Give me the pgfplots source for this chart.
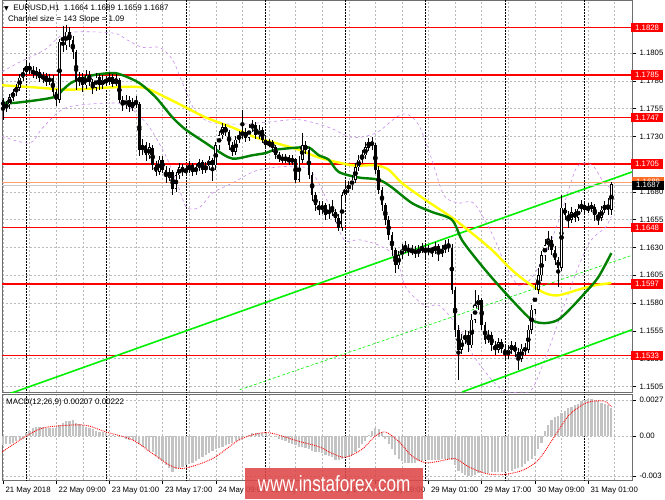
\documentclass[border=0pt]{standalone}
\usepackage{fontspec}
\setmainfont{Liberation Sans}
\newfontfamily\dejavu{DejaVu Sans}
\usepackage{graphicx}
\usepackage{pgfplots}
\usepackage{pgfplotstable}
\pgfplotsset{compat=1.18}

\definecolor{mtgrid}{RGB}{185,185,185}
\definecolor{mtframe}{RGB}{110,110,110}
\definecolor{mtgreen}{RGB}{0,128,0}
\definecolor{mtlime}{RGB}{0,240,0}
\definecolor{mtyellow}{RGB}{255,255,0}
\definecolor{mtviolet}{RGB}{200,140,235}
\definecolor{mtsilver}{RGB}{195,195,195}
\definecolor{mtsalmon}{RGB}{255,160,110}
\definecolor{mtorange}{RGB}{255,110,40}
\definecolor{wmred}{RGB}{222,72,72}

\pgfplotstableread{
t O H L C
0 1.1763 1.1765 1.1745 1.1756
1 1.1756 1.1762 1.1752 1.1759
2 1.1759 1.1768 1.1755 1.1765
3 1.1765 1.1773 1.1762 1.1770
4 1.1770 1.1777 1.1766 1.1774
5 1.1774 1.1786 1.1771 1.1783
6 1.1783 1.1792 1.1780 1.1788
7 1.1788 1.1797 1.1785 1.1793
8 1.1793 1.1796 1.1786 1.1790
9 1.1790 1.1793 1.1783 1.1786
10 1.1786 1.1792 1.1782 1.1788
11 1.1788 1.1791 1.1779 1.1783
12 1.1783 1.1788 1.1778 1.1784
13 1.1784 1.1787 1.1775 1.1779
14 1.1779 1.1786 1.1776 1.1783
15 1.1783 1.1785 1.1766 1.1770
16 1.1770 1.1773 1.1757 1.1763
17 1.1763 1.1818 1.1760 1.1815
18 1.1815 1.1829 1.1806 1.1812
19 1.1812 1.1830 1.1808 1.1824
20 1.1824 1.1828 1.1810 1.1817
21 1.1817 1.1820 1.1800 1.1806
22 1.1806 1.1808 1.1772 1.1779
23 1.1779 1.1788 1.1775 1.1783
24 1.1783 1.1787 1.1770 1.1776
25 1.1776 1.1790 1.1773 1.1785
26 1.1785 1.1789 1.1775 1.1779
27 1.1779 1.1782 1.1768 1.1774
28 1.1774 1.1787 1.1771 1.1783
29 1.1783 1.1786 1.1772 1.1776
30 1.1776 1.1785 1.1773 1.1781
31 1.1781 1.1784 1.1775 1.1779
32 1.1779 1.1787 1.1776 1.1783
33 1.1783 1.1786 1.1774 1.1777
34 1.1777 1.1786 1.1775 1.1781
35 1.1781 1.1783 1.1760 1.1763
36 1.1763 1.1766 1.1753 1.1758
37 1.1758 1.1767 1.1755 1.1763
38 1.1763 1.1766 1.1752 1.1756
39 1.1756 1.1765 1.1753 1.1761
40 1.1761 1.1766 1.1756 1.1759
41 1.1759 1.1761 1.1712 1.1718
42 1.1718 1.1728 1.1713 1.1722
43 1.1722 1.1725 1.1708 1.1713
44 1.1713 1.1724 1.1710 1.1720
45 1.1720 1.1722 1.1700 1.1704
46 1.1704 1.1708 1.1694 1.1698
47 1.1698 1.1712 1.1695 1.1709
48 1.1709 1.1712 1.1697 1.1700
49 1.1700 1.1703 1.1688 1.1693
50 1.1693 1.1702 1.1690 1.1698
51 1.1698 1.1700 1.1677 1.1683
52 1.1683 1.1698 1.1680 1.1695
53 1.1695 1.1706 1.1692 1.1702
54 1.1702 1.1705 1.1694 1.1698
55 1.1698 1.1704 1.1695 1.1700
56 1.1700 1.1708 1.1697 1.1704
57 1.1704 1.1706 1.1694 1.1698
58 1.1698 1.1705 1.1695 1.1702
59 1.1702 1.1710 1.1699 1.1707
60 1.1707 1.1709 1.1696 1.1700
61 1.1700 1.1707 1.1697 1.1703
62 1.1703 1.1712 1.1700 1.1709
63 1.1709 1.1711 1.1690 1.1704
64 1.1704 1.1725 1.1700 1.1722
65 1.1722 1.1735 1.1718 1.1731
66 1.1731 1.1742 1.1728 1.1738
67 1.1738 1.1741 1.1730 1.1734
68 1.1734 1.1736 1.1718 1.1722
69 1.1722 1.1725 1.1712 1.1716
70 1.1716 1.1730 1.1713 1.1727
71 1.1727 1.1735 1.1724 1.1731
72 1.1731 1.1754 1.1728 1.1734
73 1.1734 1.1738 1.1725 1.1729
74 1.1729 1.1741 1.1726 1.1738
75 1.1738 1.1745 1.1734 1.1740
76 1.1740 1.1743 1.1728 1.1731
77 1.1731 1.1740 1.1728 1.1736
78 1.1736 1.1738 1.1724 1.1727
79 1.1727 1.1730 1.1719 1.1722
80 1.1722 1.1728 1.1720 1.1725
81 1.1725 1.1727 1.1716 1.1720
82 1.1720 1.1722 1.1710 1.1713
83 1.1713 1.1716 1.1707 1.1711
84 1.1711 1.1714 1.1706 1.1709
85 1.1709 1.1714 1.1706 1.1711
86 1.1711 1.1713 1.1704 1.1707
87 1.1707 1.1713 1.1704 1.1710
88 1.1710 1.1711 1.1688 1.1691
89 1.1691 1.1712 1.1689 1.1709
90 1.1709 1.1733 1.1706 1.1722
91 1.1722 1.1726 1.1714 1.1718
92 1.1718 1.1720 1.1692 1.1695
93 1.1695 1.1698 1.1672 1.1677
94 1.1677 1.1680 1.1663 1.1668
95 1.1668 1.1672 1.1659 1.1664
96 1.1664 1.1672 1.1660 1.1668
97 1.1668 1.1670 1.1655 1.1659
98 1.1659 1.1669 1.1656 1.1665
99 1.1665 1.1673 1.1658 1.1662
100 1.1662 1.1665 1.1653 1.1657
101 1.1657 1.1660 1.1645 1.1648
102 1.1648 1.1680 1.1645 1.1677
103 1.1677 1.1690 1.1672 1.1683
104 1.1683 1.1690 1.1679 1.1686
105 1.1686 1.1695 1.1682 1.1691
106 1.1691 1.1706 1.1688 1.1702
107 1.1702 1.1713 1.1699 1.1709
108 1.1709 1.1718 1.1706 1.1713
109 1.1713 1.1725 1.1710 1.1720
110 1.1720 1.1729 1.1717 1.1725
111 1.1725 1.1729 1.1718 1.1722
112 1.1722 1.1724 1.1696 1.1700
113 1.1700 1.1703 1.1678 1.1682
114 1.1682 1.1685 1.1663 1.1668
115 1.1668 1.1670 1.1650 1.1655
116 1.1655 1.1658 1.1637 1.1641
117 1.1641 1.1644 1.1622 1.1628
118 1.1628 1.1630 1.1607 1.1614
119 1.1614 1.1627 1.1611 1.1623
120 1.1623 1.1633 1.1620 1.1628
121 1.1628 1.1636 1.1625 1.1630
122 1.1630 1.1633 1.1622 1.1626
123 1.1626 1.1632 1.1623 1.1628
124 1.1628 1.1631 1.1621 1.1625
125 1.1625 1.1632 1.1622 1.1628
126 1.1628 1.1634 1.1625 1.1630
127 1.1630 1.1633 1.1621 1.1626
128 1.1626 1.1632 1.1623 1.1629
129 1.1629 1.1631 1.1622 1.1627
130 1.1627 1.1635 1.1624 1.1631
131 1.1631 1.1633 1.1618 1.1625
132 1.1625 1.1632 1.1622 1.1628
133 1.1628 1.1637 1.1625 1.1632
134 1.1632 1.1638 1.1626 1.1630
135 1.1630 1.1633 1.1588 1.1592
136 1.1592 1.1595 1.1550 1.1556
137 1.1556 1.1560 1.1511 1.1538
138 1.1538 1.1552 1.1534 1.1547
139 1.1547 1.1556 1.1543 1.1551
140 1.1551 1.1555 1.1536 1.1542
141 1.1542 1.1570 1.1540 1.1565
142 1.1565 1.1592 1.1562 1.1578
143 1.1578 1.1587 1.1574 1.1583
144 1.1583 1.1585 1.1556 1.1560
145 1.1560 1.1563 1.1543 1.1547
146 1.1547 1.1556 1.1544 1.1551
147 1.1551 1.1554 1.1537 1.1542
148 1.1542 1.1546 1.1533 1.1538
149 1.1538 1.1549 1.1535 1.1545
150 1.1545 1.1548 1.1535 1.1539
151 1.1539 1.1542 1.1528 1.1533
152 1.1533 1.1542 1.1530 1.1538
153 1.1538 1.1546 1.1534 1.1542
154 1.1542 1.1545 1.1532 1.1536
155 1.1536 1.1540 1.1520 1.1530
156 1.1530 1.1543 1.1527 1.1539
157 1.1539 1.1544 1.1533 1.1538
158 1.1538 1.1560 1.1535 1.1556
159 1.1556 1.1578 1.1552 1.1574
160 1.1574 1.1597 1.1570 1.1592
161 1.1592 1.1612 1.1588 1.1605
162 1.1605 1.1627 1.1600 1.1623
163 1.1623 1.1638 1.1618 1.1632
164 1.1632 1.1645 1.1628 1.1637
165 1.1637 1.1640 1.1623 1.1628
166 1.1628 1.1631 1.1614 1.1619
167 1.1619 1.1622 1.1595 1.1612
168 1.1612 1.1677 1.1609 1.1666
169 1.1666 1.1670 1.1655 1.1659
170 1.1659 1.1663 1.1648 1.1655
171 1.1655 1.1667 1.1652 1.1662
172 1.1662 1.1665 1.1653 1.1657
173 1.1657 1.1669 1.1654 1.1665
174 1.1665 1.1673 1.1662 1.1668
175 1.1668 1.1671 1.1660 1.1664
176 1.1664 1.1670 1.1661 1.1666
177 1.1666 1.1671 1.1662 1.1667
178 1.1667 1.1669 1.1654 1.1659
179 1.1659 1.1662 1.1650 1.1657
180 1.1657 1.1667 1.1654 1.1664
181 1.1664 1.1672 1.1661 1.1668
182 1.1668 1.1675 1.1659 1.1664
183 1.1664 1.1689 1.1659 1.1687
}\candles

\pgfplotstableread{
t m
0 -0.0007
1 -0.0006
2 -0.0006
3 -0.0005
4 -0.0004
5 -0.0003
6 -0.0002
7 0.0002
8 0.0004
9 0.0006
10 0.0007
11 0.0007
12 0.0007
13 0.0006
14 0.0006
15 0.0006
16 0.0006
17 0.0008
18 0.0010
19 0.0011
20 0.0011
21 0.0012
22 0.0010
23 0.0009
24 0.0008
25 0.0007
26 0.0006
27 0.0005
28 0.0004
29 0.0003
30 0.0003
31 0.0002
32 0.0001
33 0.0001
34 0.0000
35 0.0000
36 -0.0001
37 -0.0002
38 -0.0003
39 -0.0003
40 -0.0004
41 -0.0006
42 -0.0008
43 -0.0009
44 -0.0011
45 -0.0012
46 -0.0015
47 -0.0017
48 -0.0019
49 -0.0022
50 -0.0024
51 -0.0027
52 -0.0025
53 -0.0024
54 -0.0023
55 -0.0022
56 -0.0021
57 -0.0020
58 -0.0019
59 -0.0017
60 -0.0016
61 -0.0014
62 -0.0013
63 -0.0011
64 -0.0010
65 -0.0009
66 -0.0008
67 -0.0007
68 -0.0006
69 -0.0005
70 -0.0004
71 -0.0003
72 -0.0002
73 0.0000
74 0.0001
75 0.0002
76 0.0002
77 0.0002
78 0.0002
79 0.0002
80 0.0001
81 0.0000
82 -0.0001
83 -0.0002
84 -0.0003
85 -0.0004
86 -0.0005
87 -0.0006
88 -0.0007
89 -0.0008
90 -0.0008
91 -0.0009
92 -0.0010
93 -0.0011
94 -0.0012
95 -0.0012
96 -0.0013
97 -0.0014
98 -0.0015
99 -0.0016
100 -0.0018
101 -0.0018
102 -0.0017
103 -0.0016
104 -0.0016
105 -0.0014
106 -0.0012
107 -0.0009
108 -0.0006
109 -0.0004
110 0.0001
111 0.0004
112 0.0006
113 0.0005
114 0.0003
115 -0.0002
116 -0.0006
117 -0.0010
118 -0.0014
119 -0.0017
120 -0.0019
121 -0.0020
122 -0.0020
123 -0.0020
124 -0.0020
125 -0.0019
126 -0.0019
127 -0.0018
128 -0.0018
129 -0.0018
130 -0.0018
131 -0.0018
132 -0.0017
133 -0.0017
134 -0.0017
135 -0.0018
136 -0.0022
137 -0.0026
138 -0.0028
139 -0.0029
140 -0.0030
141 -0.0030
142 -0.0029
143 -0.0028
144 -0.0028
145 -0.0028
146 -0.0028
147 -0.0027
148 -0.0027
149 -0.0027
150 -0.0027
151 -0.0027
152 -0.0026
153 -0.0026
154 -0.0025
155 -0.0024
156 -0.0023
157 -0.0021
158 -0.0019
159 -0.0017
160 -0.0015
161 -0.0010
162 -0.0005
163 0.0004
164 0.0008
165 0.0012
166 0.0014
167 0.0015
168 0.0017
169 0.0019
170 0.0021
171 0.0022
172 0.0023
173 0.0024
174 0.0026
175 0.0027
176 0.0028
177 0.0028
178 0.0027
179 0.0026
180 0.0025
181 0.0024
182 0.0023
183 0.0021
}\macd

\begin{document}
\begin{tikzpicture}[x=1pt,y=1pt]
\useasboundingbox (0,0) rectangle (665,499);

\begin{axis}[
  scale only axis, width=630pt, height=392pt,
  at={(2pt,107pt)}, anchor=south west,
  xmin=-0.3, xmax=189.2, ymin=1.1500, ymax=1.18527,
  clip mode=individual,
  axis line style={draw=mtframe, line width=0.8pt},
  xtick={0,16,...,176}, xticklabels={},
  minor xtick={8,24,...,184},
  xmajorgrids, xminorgrids,
  xtick style={draw=none},
  minor tick length=0pt,
  ytick={1.1505,1.1530,1.1555,1.1580,1.1605,1.1630,1.1655,1.1680,1.1705,1.1730,1.1755,1.1780,1.1805},
  ymajorgrids,
  grid style={mtgrid, dash pattern=on 2pt off 2pt, line width=0.5pt},
  minor grid style={mtgrid, dash pattern=on 2pt off 2pt, line width=0.5pt},
  ytick pos=right, yticklabel pos=right,
  tick align=outside, major tick length=4pt,
  ytick style={black, line width=0.5pt},
  scaled y ticks=false,
  /pgf/number format/assume math mode=true,
  /pgf/number format/fixed,
  /pgf/number format/fixed zerofill,
  /pgf/number format/precision=4,
  yticklabel style={font=\fontsize{7.8}{8}\selectfont},
  extra y ticks={1.1828,1.1785,1.1747,1.1705,1.1648,1.1597,1.1533},
  extra y tick labels={1.1828,1.1785,1.1747,1.1705,1.1648,1.1597,1.1533},
  extra y tick style={grid=major, major grid style={draw=red, line width=1.6pt, solid}, major tick length=0pt,
     yticklabel style={fill=red, text=white, inner xsep=4pt, inner ysep=2pt, xshift=-1pt}},
  extra x ticks={7,31,55,79,103,127,151,175}, extra x tick labels={},
  extra x tick style={grid=major, major grid style={draw=black, densely dotted, line width=0.6pt}, major tick length=0pt},
]
% Bollinger-like bands
\addplot[mtviolet, dashed, line width=0.6pt, smooth, tension=0.5] coordinates {
(-0.3,1.1788) (5.1,1.1797) (12.6,1.1808) (19.2,1.1823) (33,1.1823) (37.2,1.1817) (42,1.1810) (47.1,1.1810)
(51,1.1799) (54,1.1778) (57.6,1.1754) (62.1,1.1743) (71.1,1.1741) (80.1,1.1743) (89.1,1.1745) (98.1,1.1738)
(105,1.1729) (112.2,1.1733) (118.2,1.1747) (121.5,1.1750) (125.1,1.1740) (129,1.1709) (132.6,1.1677)
(137.1,1.1670) (141.6,1.1670) (147,1.1643) (151.2,1.1614) (155.1,1.1596) (159.6,1.1605) (165,1.1637)
(169.2,1.1673) (172.2,1.1700) (174.6,1.1706) (177.6,1.1703) (180.6,1.1689) (182.7,1.1684)};
\addplot[mtviolet, dashed, line width=0.6pt, smooth, tension=0.5] coordinates {
(-0.3,1.1730) (8.1,1.1724) (12,1.1738) (19.2,1.1756) (34.2,1.1760) (39,1.1754) (44.1,1.1738) (49.2,1.1711)
(53.1,1.1682) (55.2,1.1666) (59.1,1.1666) (63,1.1679) (69,1.1688) (77.1,1.1700) (89.1,1.1703) (93.6,1.1695)
(98.1,1.1668) (102.6,1.1637) (107.1,1.1637) (113.1,1.1632) (118.2,1.1621) (121.2,1.1594) (127.2,1.1577)
(131.1,1.1578) (137.1,1.1558) (141,1.1535) (147,1.1511) (151.2,1.1500) (155.1,1.1500) (159,1.1502)
(163.2,1.1531) (168,1.1571) (173.1,1.1613) (177,1.1637) (181.2,1.1648) (183,1.1658)};
% channel
\addplot[mtlime, line width=1.6pt] coordinates {(-0.3,1.1496) (189.2,1.1698)};
\addplot[mtlime, line width=1.6pt] coordinates {(138.1,1.1500) (189.2,1.1556)};
\addplot[mtlime, densely dashed, line width=0.6pt] coordinates {(71.2,1.1502) (189.2,1.1623)};
% current price lines
\addplot[mtsalmon, line width=0.8pt] coordinates {(-0.3,1.1689) (189.2,1.1689)};
\addplot[gray!40, line width=0.6pt] coordinates {(-0.3,1.1686) (189.2,1.1686)};
% moving averages
\addplot[mtyellow, line width=2.4pt, smooth, tension=0.5] coordinates {
(-0.3,1.1776) (10,1.1774) (20,1.1772) (32,1.1774) (42,1.1774) (49,1.1765) (55,1.1756) (61,1.1747)
(69,1.1738) (76,1.1729) (82,1.1724) (89,1.1718) (95,1.1711) (105,1.1704) (112,1.1704) (116,1.1700)
(120,1.1688) (127,1.1673) (135,1.1657) (141,1.1643) (147,1.1628) (153,1.1610) (158,1.1598) (163,1.1589)
(167,1.1587) (173,1.1592) (178,1.1596) (183,1.1598)};
\addplot[mtgreen, line width=2.4pt, smooth, tension=0.5] coordinates {
(-0.3,1.1761) (3,1.1760) (15,1.1765) (18,1.1772) (21,1.1779) (27,1.1785) (33,1.1787) (36,1.1785)
(41,1.1778) (46,1.1765) (51,1.1747) (55,1.1736) (61,1.1724) (64,1.1718) (69,1.1710) (75,1.1713)
(79,1.1715) (82,1.1718) (89,1.1720) (92,1.1720) (95,1.1713) (98,1.1709) (101,1.1698) (107,1.1693)
(113,1.1691) (117,1.1684) (123,1.1670) (129,1.1662) (135,1.1655) (138,1.1637) (142,1.1621) (147,1.1603)
(153,1.1583) (159,1.1565) (163,1.1562) (167,1.1565) (171,1.1576) (175,1.1589) (179,1.1603) (183,1.1625)};
% candles: wicks
\addplot[only marks, mark=none, error bars/.cd, y dir=both, y explicit, error mark=none,
  error bar style={draw=black, line width=0.6pt}]
  table[x=t, y expr={(\thisrow{H}+\thisrow{L})/2}, y error expr={(\thisrow{H}-\thisrow{L})/2}] {\candles};
% bearish bodies
\addplot[only marks, mark=none, restrict expr to domain={\thisrow{O}-\thisrow{C}}{0:1},
  error bars/.cd, y dir=both, y explicit, error mark=none,
  error bar style={draw=black, line width=2.6pt}]
  table[x=t, y expr={(\thisrow{O}+\thisrow{C})/2}, y error expr={abs(\thisrow{O}-\thisrow{C})/2}] {\candles};
% bullish bodies
\addplot[only marks, mark=none, restrict expr to domain={\thisrow{C}-\thisrow{O}}{0.00001:1},
  error bars/.cd, y dir=both, y explicit, error mark=none,
  error bar style={draw=black, line width=2.6pt}]
  table[x=t, y expr={(\thisrow{O}+\thisrow{C})/2}, y error expr={abs(\thisrow{O}-\thisrow{C})/2}] {\candles};
\addplot[only marks, mark=none, restrict expr to domain={\thisrow{C}-\thisrow{O}}{0.00011:1},
  error bars/.cd, y dir=both, y explicit, error mark=none,
  error bar style={draw=white, line width=1.2pt}]
  table[x=t, y expr={(\thisrow{O}+\thisrow{C})/2}, y error expr={abs(\thisrow{O}-\thisrow{C})/2-0.00005}] {\candles};
% current price labels
\node[fill=mtorange, text=white, anchor=west, inner xsep=4pt, inner ysep=2pt, font=\fontsize{7.8}{8}\selectfont] at (axis cs:189.2,1.16895) {1.1689};
\node[fill=black, text=white, anchor=west, inner xsep=4pt, inner ysep=2pt, font=\fontsize{7.8}{8}\selectfont] at (axis cs:189.2,1.1686) {1.1687};
\end{axis}

\begin{axis}[
  scale only axis, width=630pt, height=86pt,
  at={(2pt,19pt)}, anchor=south west,
  xmin=-0.3, xmax=189.2, ymin=-0.0033, ymax=0.00315,
  axis line style={draw=mtframe, line width=0.8pt},
  xtick={0,16,...,176},
  xticklabels={21 May 2018,22 May 09:00,23 May 01:00,23 May 17:00,24 May 09:00,25 May 01:00,25 May 17:00,28 May 09:00,29 May 01:00,29 May 17:00,30 May 09:00,31 May 01:00},
  minor xtick={8,24,...,184},
  xmajorgrids, xminorgrids, ymajorgrids,
  grid style={mtgrid, dash pattern=on 2pt off 2pt, line width=0.5pt},
  minor grid style={mtgrid, dash pattern=on 2pt off 2pt, line width=0.5pt},
  xtick pos=bottom, ytick pos=right, yticklabel pos=right,
  tick align=outside, major tick length=4pt, minor tick length=0pt,
  tick style={black, line width=0.5pt},
  scaled y ticks=false,
  ytick={-0.003,0,0.0027}, yticklabels={-0.003,0.00,0.0027},
  /pgf/number format/assume math mode=true,
  yticklabel style={font=\fontsize{7.8}{8}\selectfont},
  xticklabel style={font=\fontsize{7.8}{8}\selectfont, anchor=north west, xshift=-1pt},
  extra x ticks={7,31,55,79,103,127,151,175}, extra x tick labels={},
  extra x tick style={grid=major, major grid style={draw=black, densely dotted, line width=0.6pt}, major tick length=0pt},
]
\addplot[ycomb, draw=mtsilver, line width=2.2pt, mark=none] table[x=t, y=m] {\macd};
\addplot[red, densely dotted, line width=0.9pt, smooth, tension=0.5] coordinates {
(-0.3,-0.0012) (7,0.0000) (12,0.0006) (19,0.0008) (25,0.0008) (31,0.0003) (39,-0.0003) (46,-0.0015)
(51,-0.0023) (55,-0.0024) (63,-0.0017) (71,-0.0003) (77,0.0002) (81,0.0002) (89,-0.0004) (95,-0.0008)
(99,-0.0013) (103,-0.0016) (108,-0.0010) (112,0.0000) (115,0.0003) (119,-0.0004) (123,-0.0015)
(127,-0.0020) (131,-0.0019) (136,-0.0017) (140,-0.0023) (145,-0.0028) (150,-0.0029) (156,-0.0026)
(161,-0.0018) (166,0.0000) (170,0.0015) (174,0.0023) (177,0.0026) (181,0.0026) (183,0.0022)};
\end{axis}

% texts
\node[anchor=west, inner sep=0pt, font=\fontsize{8}{8}\selectfont] at (4,491)
  {{\dejavu\fontsize{6}{6}\selectfont ▼}\ \ EURUSD,H1\ \ 1.1664 1.1689 1.1659 1.1687};
\node[anchor=west, inner sep=0pt, font=\fontsize{8}{8}\selectfont] at (8,480) {Channel size = 143 Slope = 1.09};
\node[anchor=west, inner sep=0pt, font=\fontsize{8}{8}\selectfont] at (6,97) {MACD(12,26,9) 0.00207 0.00222};
% watermark
\node[fill=wmred, fill opacity=0.88, text opacity=1, text=white, minimum width=178pt, minimum height=31pt,
  inner sep=0pt, anchor=south west] at (245,0) {\fontsize{22}{22}\selectfont\scalebox{0.78}[1]{www.instaforex.com}};
\end{tikzpicture}
\end{document}
